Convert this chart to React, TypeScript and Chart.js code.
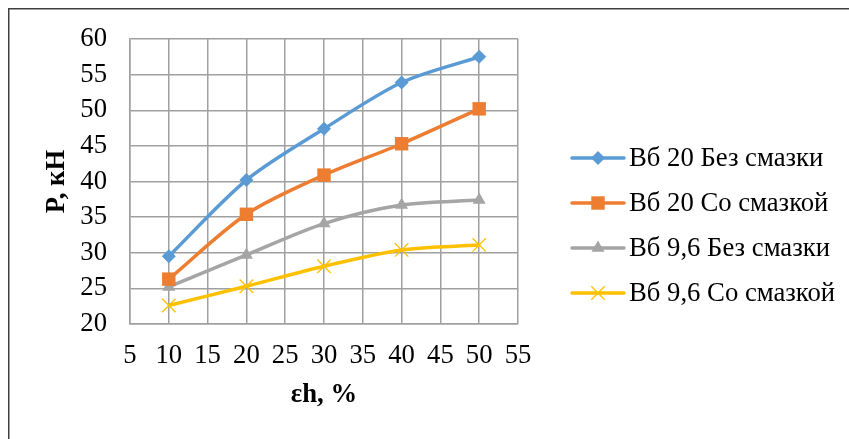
import React, { useEffect, useRef } from "react";
import { Chart, registerables } from "chart.js";

Chart.register(...registerables);

const xValues = [10, 20, 30, 40, 50];
const seriesLabels = ["Вб 20 Без смазки", "Вб 20 Со смазкой", "Вб 9,6 Без смазки", "Вб 9,6 Со смазкой"];
const vb20NoLube = [29.5, 40.2, 47.4, 53.9, 57.5];
const vb20Lube = [26.3, 35.4, 40.9, 45.3, 50.2];
const vb96NoLube = [25.2, 29.7, 34.1, 36.7, 37.4];
const vb96Lube = [22.6, 25.3, 28.1, 30.4, 31.1];
const xTitle = "εh, %";
const yTitle = "P, кН";

const colors = ["#5B9BD5", "#ED7D31", "#A5A5A5", "#FFC000"];
const pointStyles = ["rectRot", "rect", "triangle", "crossRot"];
const pointRadii = [7, 9.5, 7.5, 9.5];
const FONT = "'Liberation Serif', 'Times New Roman', serif";
const FS = 26.7;

function drawMarker(ctx: CanvasRenderingContext2D, style: string, x: number, y: number, r: number, color: string) {
  ctx.save();
  ctx.fillStyle = color;
  ctx.strokeStyle = color;
  ctx.beginPath();
  if (style === "rectRot") {
    ctx.moveTo(x - r, y);
    ctx.lineTo(x, y - r);
    ctx.lineTo(x + r, y);
    ctx.lineTo(x, y + r);
    ctx.closePath();
    ctx.fill();
  } else if (style === "rect") {
    const s = Math.SQRT1_2 * r;
    ctx.rect(x - s, y - s, 2 * s, 2 * s);
    ctx.fill();
  } else if (style === "triangle") {
    ctx.moveTo(x, y - r);
    ctx.lineTo(x + r * Math.sin(Math.PI / 3), y + r * 0.5);
    ctx.lineTo(x - r * Math.sin(Math.PI / 3), y + r * 0.5);
    ctx.closePath();
    ctx.fill();
  } else {
    const o = Math.SQRT1_2 * r;
    ctx.lineWidth = 1.3;
    ctx.moveTo(x - o, y - o);
    ctx.lineTo(x + o, y + o);
    ctx.moveTo(x + o, y - o);
    ctx.lineTo(x - o, y + o);
    ctx.stroke();
  }
  ctx.restore();
}

const frameAndLegend = {
  id: "frameAndLegend",
  beforeDraw(chart: any) {
    const ctx = chart.ctx as CanvasRenderingContext2D;
    ctx.save();
    ctx.fillStyle = "#ffffff";
    ctx.fillRect(0, 0, chart.width, chart.height);
    ctx.strokeStyle = "#404040";
    ctx.lineWidth = 1.5;
    ctx.beginPath();
    ctx.moveTo(8.75, chart.height);
    ctx.lineTo(8.75, 8.75);
    ctx.lineTo(chart.width, 8.75);
    ctx.stroke();
    ctx.restore();
  },
  afterDraw(chart: any) {
    const ctx = chart.ctx as CanvasRenderingContext2D;
    const ys = [158, 203, 248, 293];
    chart.data.datasets.forEach((ds: any, i: number) => {
      const y = ys[i];
      ctx.save();
      ctx.strokeStyle = ds.borderColor;
      ctx.lineWidth = 3.5;
      ctx.lineCap = "round";
      ctx.beginPath();
      ctx.moveTo(572, y);
      ctx.lineTo(624, y);
      ctx.stroke();
      ctx.restore();
      drawMarker(ctx, ds.pointStyle, 598, y, ds.pointRadius, ds.borderColor);
      ctx.save();
      ctx.fillStyle = "#000000";
      ctx.font = `${FS}px ${FONT}`;
      ctx.textBaseline = "middle";
      ctx.textAlign = "left";
      ctx.fillText(ds.label, 629, y + 1);
      ctx.restore();
    });
  },
};

export default function App() {
  const ref = useRef<HTMLCanvasElement>(null);
  useEffect(() => {
    if (!ref.current) return;
    const all = [vb20NoLube, vb20Lube, vb96NoLube, vb96Lube];
    const chart = new Chart(ref.current, {
      type: "line",
      data: {
        datasets: all.map((vals, i) => ({
          label: seriesLabels[i],
          data: xValues.map((x, j) => ({ x, y: vals[j] })),
          borderColor: colors[i],
          backgroundColor: colors[i],
          borderWidth: 3.5,
          pointStyle: pointStyles[i] as any,
          pointRadius: pointRadii[i],
          pointBorderWidth: i === 3 ? 1.3 : 0,
          pointBackgroundColor: colors[i],
          pointBorderColor: colors[i],
          tension: 0.3,
          fill: false,
        })),
      },
      options: {
        animation: false,
        responsive: false,
        layout: { padding: { left: 0, right: 331, top: 37, bottom: 0 } },
        plugins: { legend: { display: false }, tooltip: { enabled: false } },
        scales: {
          x: {
            type: "linear",
            min: 5,
            max: 55,
            afterFit: (s: any) => { s.height = 115; },
            ticks: { stepSize: 5, color: "#000", font: { family: FONT, size: FS }, padding: 16, maxRotation: 0 },
            grid: { color: "#A0A0A0", lineWidth: 1.5, drawTicks: false },
            border: { color: "#A0A0A0", width: 1.5 },
            title: { display: true, text: xTitle, color: "#000", font: { family: FONT, size: FS, weight: "bold" }, padding: { top: 0, bottom: 28 } },
          },
          y: {
            min: 20,
            max: 60,
            afterFit: (s: any) => { s.width = 130; },
            ticks: { stepSize: 5, color: "#000", font: { family: FONT, size: FS }, padding: 23 },
            grid: { color: "#A0A0A0", lineWidth: 1.5, drawTicks: false },
            border: { color: "#A0A0A0", width: 1.5 },
            title: { display: true, text: yTitle, color: "#000", font: { family: FONT, size: FS, weight: "bold" }, padding: { top: 41, bottom: 0 } },
          },
        },
      },
      plugins: [frameAndLegend],
    });
    return () => chart.destroy();
  }, []);
  return (
    <div style={{ position: "fixed", left: 0, top: 0, width: 849, height: 439, overflow: "hidden" }}>
      <canvas ref={ref} width={849} height={439} style={{ display: "block", width: 849, height: 439 }} />
    </div>
  );
}
